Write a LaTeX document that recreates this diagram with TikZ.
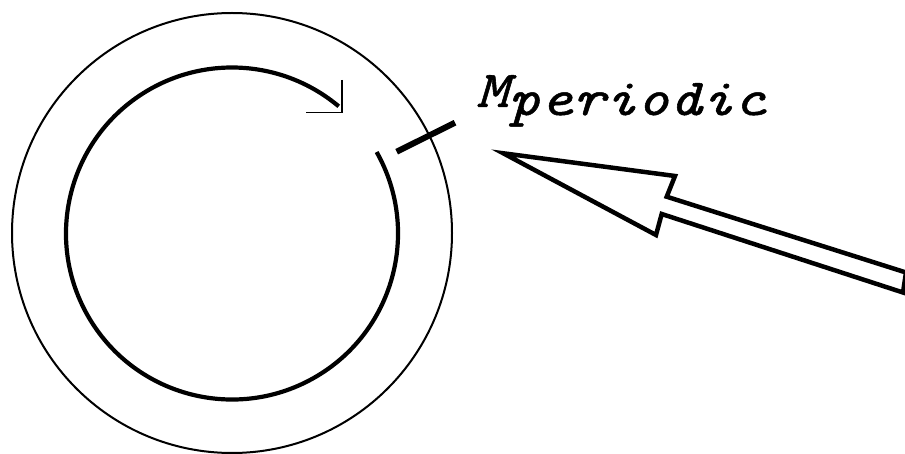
\documentclass[tikz,border=0pt]{standalone}
\usepackage{fontspec}
\newfontfamily\lblfont{lmmono10-italic.otf}[FakeBold=0.9]
\begin{document}
\begin{tikzpicture}[x=1pt,y=1pt,
  outerring/.style={line width=2pt},
  flowarc/.style={line width=4.2pt},
  thinhead/.style={line width=1.6pt},
  gaptick/.style={line width=6pt},
  bigarrow/.style={line width=4.5pt, fill=white, line join=miter},
  lbl/.style={inner sep=0pt, font=\fontsize{52}{60}\selectfont\lblfont}]
\useasboundingbox (0,0) rectangle (905,-454);
% outer circle
\draw[outerring] (232,-233) circle[radius=220];
% inner arc with open arrowhead
\coordinate (c) at (232,-233.5);
\draw[flowarc] (c) ++(29.4:166) arc[start angle=29.4, end angle=-310, radius=166];
\coordinate (tip) at (341.7,-112.7);
\coordinate (barbup) at (341.7,-80);
\coordinate (barbleft) at (306,-112.7);
\draw[thinhead] (barbup) -- (tip) -- (barbleft);
% tick across the outer ring
\coordinate (t1) at (396.7,-151.7);
\coordinate (t2) at (455,-122.7);
\draw[gaptick] (t1) -- (t2);
% label
\node[lbl, anchor=base west] (M) at (476,-107) {\scalebox{1.18}[1]{M\raisebox{-8pt}{periodic}}};
% hollow big arrow
\draw[bigarrow] (503.3,-153.3) -- (675,-176) -- (666.7,-196.7) -- (906,-272.5)
  -- (903,-292.5) -- (661.7,-214) -- (656,-235) -- cycle;
\end{tikzpicture}
\end{document}
